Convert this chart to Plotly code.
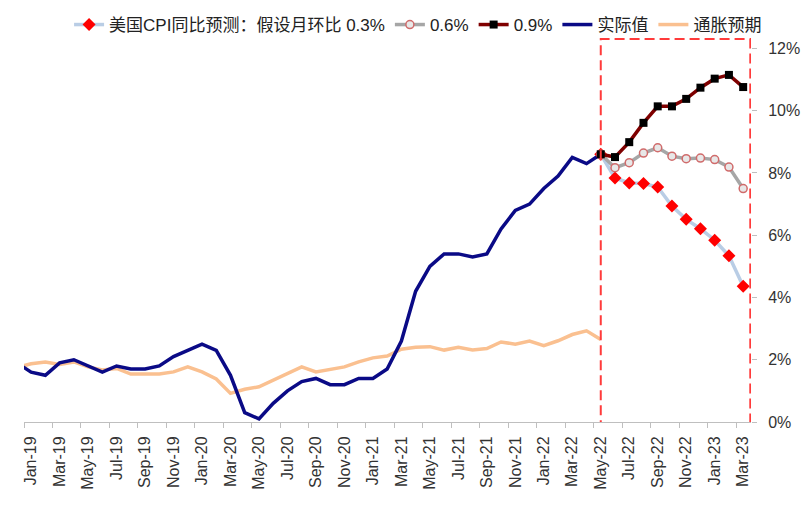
import plotly.graph_objects as go

mon = ['Jan', 'Feb', 'Mar', 'Apr', 'May', 'Jun', 'Jul', 'Aug', 'Sep', 'Oct', 'Nov', 'Dec']
months = ['Dec-18'] + [f'{m}-{y}' for y in ['19', '20', '21', '22'] for m in mon] + ['Jan-23', 'Feb-23', 'Mar-23']

# actual CPI YoY, Dec-18 .. May-22
actual = [1.9,
          1.6, 1.5, 1.9, 2.0, 1.8, 1.6, 1.8, 1.7, 1.7, 1.8, 2.1, 2.3,
          2.5, 2.3, 1.5, 0.3, 0.1, 0.6, 1.0, 1.3, 1.4, 1.2, 1.2, 1.4,
          1.4, 1.7, 2.6, 4.2, 5.0, 5.4, 5.4, 5.3, 5.4, 6.2, 6.8, 7.0,
          7.5, 7.9, 8.5, 8.3, 8.6]
# inflation expectations, Dec-18 .. May-22
expect = [1.75,
          1.87, 1.93, 1.85, 1.93, 1.77, 1.67, 1.72, 1.54, 1.53, 1.54, 1.61, 1.77,
          1.61, 1.38, 0.92, 1.05, 1.13, 1.35, 1.56, 1.77, 1.61, 1.69, 1.77, 1.93,
          2.06, 2.12, 2.34, 2.40, 2.42, 2.31, 2.40, 2.31, 2.36, 2.57, 2.50, 2.60,
          2.45, 2.61, 2.81, 2.93, 2.65]
# forecasts, May-22 .. Mar-23
f03 = [8.6, 7.84, 7.68, 7.66, 7.55, 6.94, 6.51, 6.21, 5.84, 5.34, 4.36]
f06 = [8.6, 8.17, 8.33, 8.64, 8.81, 8.54, 8.46, 8.48, 8.43, 8.19, 7.50]
f09 = [8.6, 8.51, 8.99, 9.61, 10.14, 10.14, 10.38, 10.74, 11.03, 11.15, 10.76]

y_ticks = [0, 2, 4, 6, 8, 10, 12]

xs = [i - 1 for i in range(len(months))]
x_hist = xs[:len(actual)]
x_fc = xs[len(actual) - 1:]
label_idx = list(range(1, len(months), 2))

FONT = "Liberation Sans, Arial, Noto Sans CJK SC, sans-serif"

fig = go.Figure()
fig.add_trace(go.Scatter(x=x_hist, y=expect, mode='lines', name='通胀预期',
                         line=dict(color='#FAC090', width=3.5), legendrank=5))
fig.add_trace(go.Scatter(x=x_hist, y=actual, mode='lines', name='实际值',
                         line=dict(color='#0A0A86', width=3.5), legendrank=4))
fig.add_trace(go.Scatter(x=x_fc, y=f03, mode='lines+markers', name='美国CPI同比预测：假设月环比 0.3%',
                         line=dict(color='#B9CDE5', width=3.5),
                         marker=dict(symbol='diamond', size=10, color='#FF0000'), legendrank=1))
fig.add_trace(go.Scatter(x=x_fc, y=f06, mode='lines+markers', name='0.6%',
                         line=dict(color='#A6A6A6', width=3.5),
                         marker=dict(symbol='circle', size=8, color='#E8E8E8',
                                     line=dict(color='#D06B6B', width=1.5)), legendrank=2))
fig.add_trace(go.Scatter(x=x_fc, y=f09, mode='lines+markers', name='0.9%',
                         line=dict(color='#7F0000', width=3.5),
                         marker=dict(symbol='square', size=8, color='#000000'), legendrank=3))

fig.add_shape(type='rect', xref='x', yref='y', x0=40, x1=50.5, y0=-0.06, y1=12.3,
              line=dict(color='#FF3B3B', width=2, dash='10px,5px'), fillcolor='rgba(0,0,0,0)',
              layer='above')

fig.update_layout(
    width=795, height=502,
    margin=dict(l=16, r=52, t=27.5, b=88, autoexpand=False),
    paper_bgcolor='white', plot_bgcolor='white',
    font=dict(family=FONT, size=16, color='#222222'),
    showlegend=True,
    legend=dict(orientation='h', x=0.062, xanchor='left',
                yref='container', y=1 - 17 / 502, yanchor='middle',
                font=dict(size=17, color='#222222'), itemwidth=30,
                bgcolor='rgba(0,0,0,0)', traceorder='normal'),
    xaxis=dict(range=[-0.5, 50.55], showgrid=False, zeroline=False, automargin=False,
               showline=True, linecolor='#BFBFBF', linewidth=1,
               tickvals=[xs[i] for i in label_idx], ticktext=[months[i] for i in label_idx],
               tickangle=-90, ticks='outside', ticklen=7, tickcolor='rgba(0,0,0,0)',
               tickfont=dict(size=16, color='#333333'),
               minor=dict(tickvals=[v + 0.5 for v in range(-1, 50, 2)], ticks='outside',
                          ticklen=5, tickcolor='#BFBFBF', tickwidth=1)),
    yaxis=dict(range=[0, 12.4], side='right', showgrid=False, zeroline=False, showline=False,
               automargin=False,
               tickvals=y_ticks, ticktext=[f'{v}%' for v in y_ticks],
               ticks='outside', ticklen=5, tickcolor='#BFBFBF',
               tickfont=dict(size=16, color='#333333'), ticklabelstandoff=8),
)

fig.write_html('out.html')
